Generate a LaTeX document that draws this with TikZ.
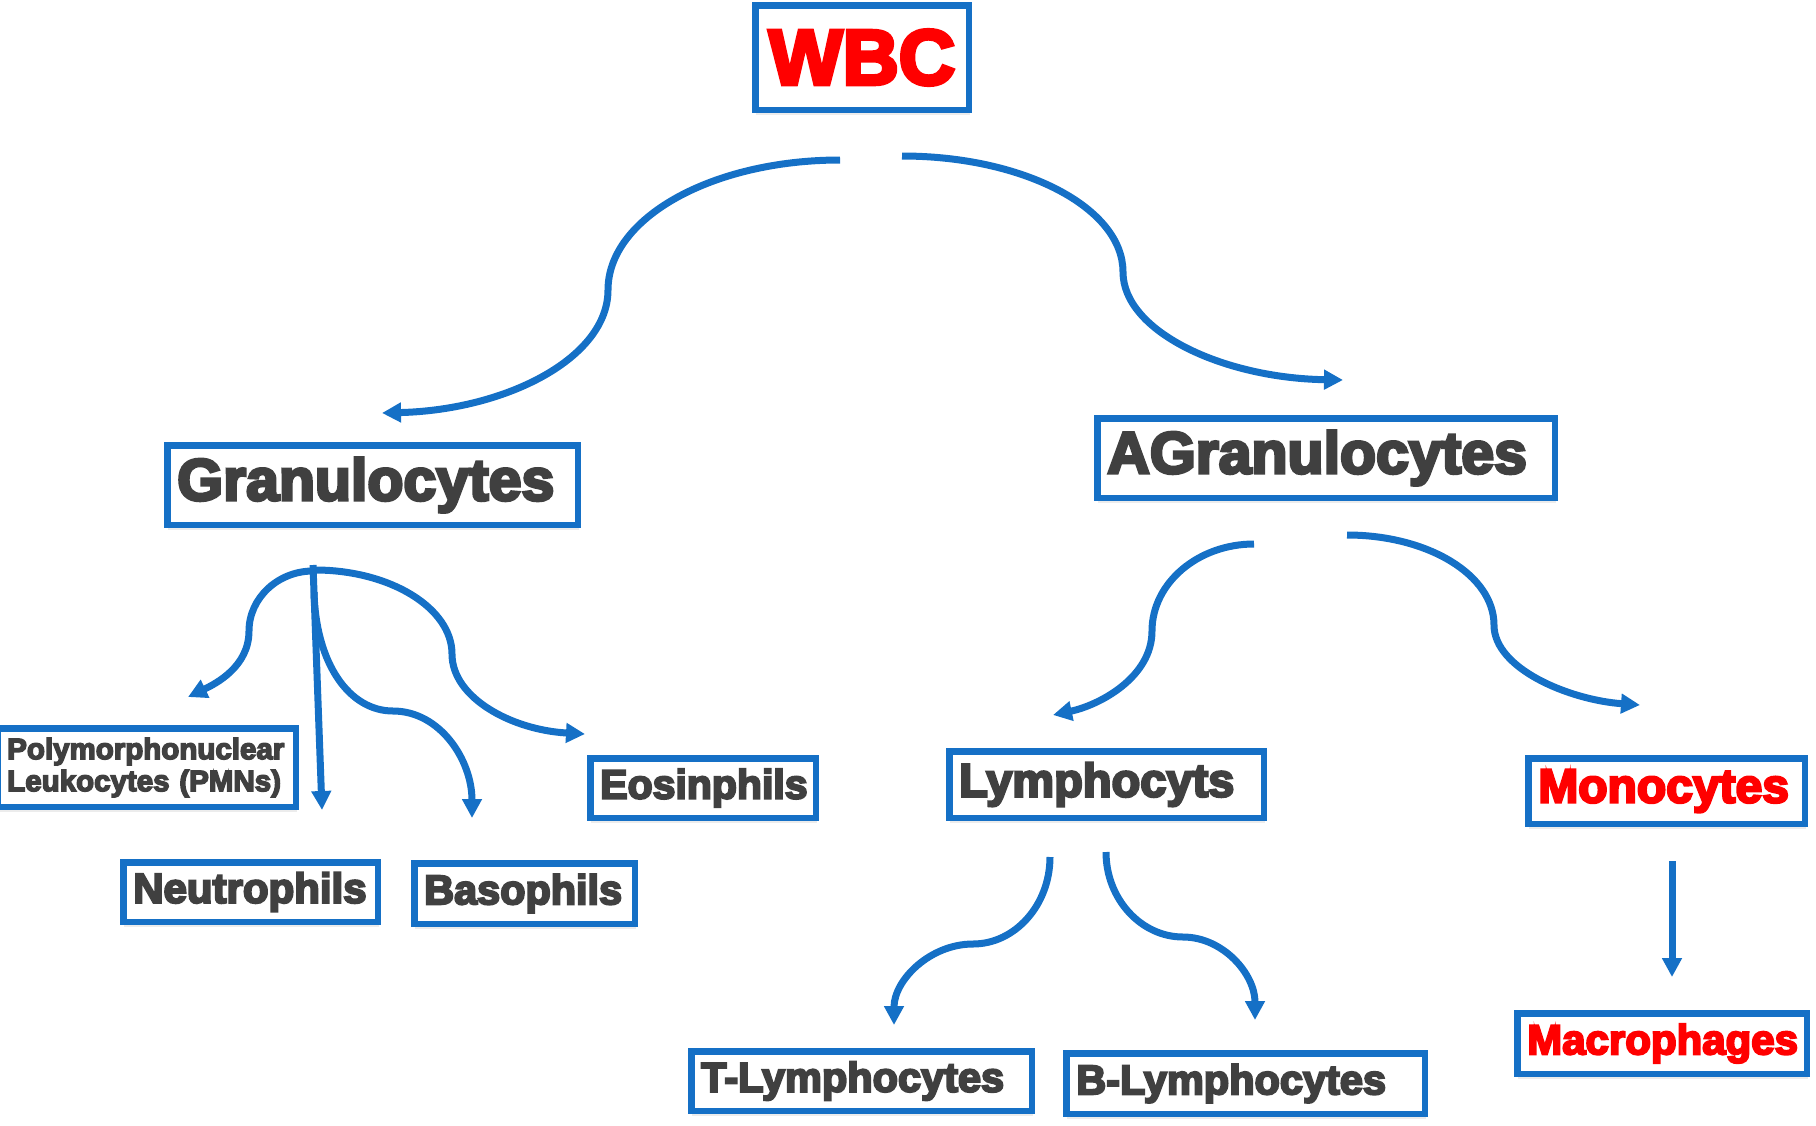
\documentclass[tikz,border=0pt]{standalone}
\usepackage{fontspec}
\setmainfont{Liberation Sans}
\newfontfamily\heavy{Liberation Sans}[BoldFeatures={FakeBold=5}]
\usetikzlibrary{arrows.meta,shadows}
\definecolor{wblue}{RGB}{21,112,198}
\definecolor{tgray}{RGB}{64,64,64}
\definecolor{tred}{RGB}{255,0,0}
\begin{document}
\begin{tikzpicture}[x=1pt,y=-1pt,
  box/.style={draw=wblue, line width=6.5pt, fill=white, inner xsep=10pt, inner ysep=0pt, align=left,
    drop shadow={shadow xshift=1pt, shadow yshift=-5pt, opacity=0.15}},
  fs/.style={font=\heavy\bfseries\fontsize{#1}{#1}\selectfont},
  gtxt/.style={text=tgray},
  rtxt/.style={text=tred},
  conn/.style={draw=wblue, line width=7pt, -{Triangle[length=19pt,width=19pt]}}
]
\useasboundingbox (0,0) rectangle (1816,1125);

% boxes
\node[box, rtxt, fs=78, align=center, text width=193.5pt, minimum width=213.5pt, minimum height=104.5pt] (wbc) at (862,57.5) {WBC};
\node[box, gtxt, fs=59, text width=390.5pt, minimum width=410.5pt, minimum height=79.5pt] (gran) at (372.5,485) {Granulocytes};
\node[box, gtxt, fs=59, text width=437.5pt, minimum width=457.5pt, minimum height=79.5pt] (agran) at (1326,458) {AGranulocytes};
\node[box, gtxt, font=\heavy\bfseries\fontsize{29.5}{32}\selectfont, text width=278.5pt, minimum width=298.5pt, minimum height=78.5pt] (pmn) at (146.5,767.5) {Polymorphonuclear\\Leukocytes (PMNs)};
\node[box, gtxt, fs=42, text width=234.5pt, minimum width=254.5pt, minimum height=59.5pt] (neut) at (250.5,892) {Neutrophils};
\node[box, gtxt, fs=41.4, text width=200.5pt, minimum width=220.5pt, minimum height=60.5pt] (baso) at (524.5,893.5) {Basophils};
\node[box, gtxt, fs=41, text width=205.5pt, minimum width=225.5pt, minimum height=59.5pt] (eos) at (703,788) {Eosinphils};
\node[box, gtxt, fs=47, text width=294.5pt, minimum width=314.5pt, minimum height=66.5pt] (lymph) at (1106.5,784.5) {Lymphocyts};
\node[box, rtxt, fs=48, text width=256.5pt, minimum width=276.5pt, minimum height=65.5pt] (mono) at (1666.5,791) {Monocytes};
\node[box, gtxt, fs=41.5, text width=320.5pt, minimum width=340.5pt, minimum height=59.5pt] (tl) at (861.5,1081) {T-Lymphocytes};
\node[box, gtxt, fs=41.5, text width=338.5pt, minimum width=358.5pt, minimum height=60.5pt] (bl) at (1245.5,1083.5) {B-Lymphocytes};
\node[box, rtxt, fs=42, text width=269.5pt, minimum width=289.5pt, minimum height=60.5pt] (macro) at (1662,1043.5) {Macrophages};

% connector points
\coordinate (wl0) at (840,160); \coordinate (wl1) at (608,290); \coordinate (wl2) at (382,413);
\coordinate (wr0) at (902,156); \coordinate (wr1) at (1123,272); \coordinate (wr2) at (1343,380);
\coordinate (gv0) at (313,565); \coordinate (gv1) at (322,810);
\coordinate (gp0) at (313,571); \coordinate (gp1) at (249,631); \coordinate (gp2) at (188,697);
\coordinate (ge0) at (315,570); \coordinate (ge1) at (452,654); \coordinate (ge2) at (585,734);
\coordinate (gb0) at (314,592); \coordinate (gb1) at (393,711); \coordinate (gb2) at (472,818);
\coordinate (al0) at (1254,544); \coordinate (al1) at (1152,631); \coordinate (al2) at (1053,715);
\coordinate (ar0) at (1347,535); \coordinate (ar1) at (1494,625); \coordinate (ar2) at (1640,705);
\coordinate (ll0) at (1050,857); \coordinate (ll1) at (973,944); \coordinate (ll2) at (894,1025);
\coordinate (lr0) at (1106,852); \coordinate (lr1) at (1183,937); \coordinate (lr2) at (1255,1020);
\coordinate (m0) at (1672,861); \coordinate (m1) at (1672,977);

% connectors
\draw[conn] (wl0) .. controls (712,160) and (608,218) .. (wl1) .. controls (608,358) and (506,410) .. (wl2);
\draw[conn] (wr0) .. controls (1024,156) and (1123,208) .. (wr1) .. controls (1123,331) and (1222,378) .. (wr2);
\draw[conn] (gv0) -- (gv1);
\draw[conn] (gp0) .. controls (278,571) and (249,598) .. (gp1) .. controls (249,667) and (215,684) .. (gp2);
\draw[conn] (ge0) .. controls (390,570) and (452,608) .. (ge1) .. controls (452,698) and (512,730) .. (ge2);
\draw[conn] (gb0) .. controls (316,665) and (350,711) .. (gb1) .. controls (440,711) and (472,760) .. (gb2);
\draw[conn] (al0) .. controls (1198,544) and (1152,583) .. (al1) .. controls (1152,677) and (1100,705) .. (al2);
\draw[conn] (ar0) .. controls (1428,535) and (1494,575) .. (ar1) .. controls (1494,669) and (1570,700) .. (ar2);
\draw[conn] (ll0) .. controls (1050,905) and (1015,944) .. (ll1) .. controls (930,944) and (894,980) .. (ll2);
\draw[conn] (lr0) .. controls (1106,899) and (1141,937) .. (lr1) .. controls (1223,937) and (1255,974) .. (lr2);
\draw[conn] (m0) -- (m1);
\end{tikzpicture}
\end{document}
